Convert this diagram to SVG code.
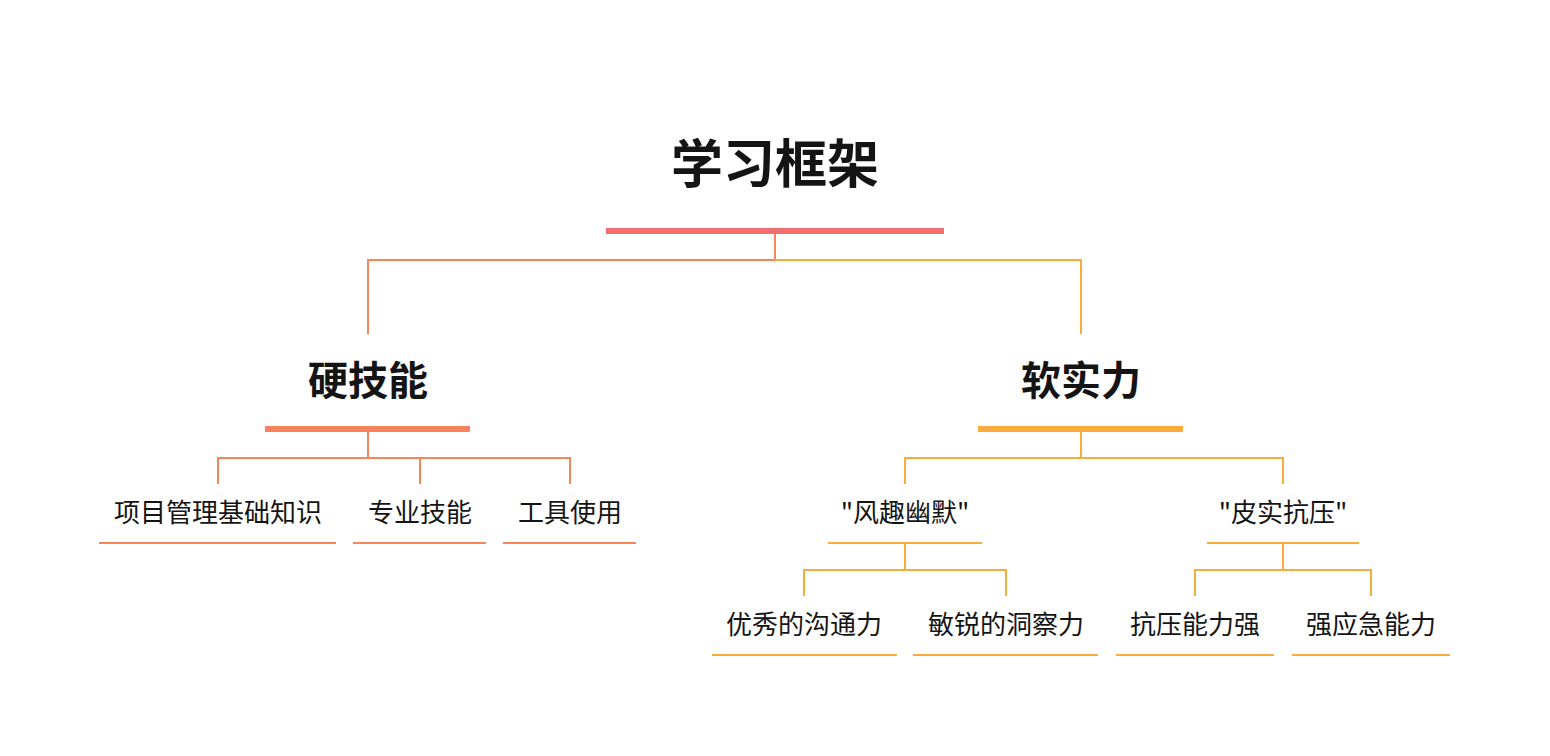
<svg xmlns="http://www.w3.org/2000/svg" width="1550" height="756" viewBox="0 0 1550 756">
<style>
text{font-family:"Noto Sans CJK SC","Noto Sans",sans-serif;fill:#141414;text-anchor:middle}
.t0{font-size:52px;font-weight:700}
.t1{font-size:40px;font-weight:700}
.t2{font-size:26px}
.c{fill:none;stroke-width:2}
.red{stroke:#F7845B}
.org{stroke:#FBAB3C}
</style>
<rect width="1550" height="756" fill="#fff"/>
<g id="connectors">
<path class="c red" d="M775 234V260M368 334V260H775"/>
<path class="c org" d="M775 260H1081V334"/>
<path class="c red" d="M368 432V458M218 484V458H570V484M420 458V484"/>
<path class="c org" d="M1081 432V458M905 484V458H1283V484"/>
<path class="c org" d="M905 543V570M804 596V570H1006V596"/>
<path class="c org" d="M1283 543V570M1195 596V570H1371V596"/>
</g>
<g id="root"><text class="t0" x="775" y="183">学习框架</text><rect x="606" y="228" width="338" height="6" fill="#F06E70"/></g>
<g id="hard"><text class="t1" x="368" y="395">硬技能</text><rect x="265" y="426" width="205" height="6" fill="#F7845B"/></g>
<g id="soft"><text class="t1" x="1081" y="395">软实力</text><rect x="978" y="426" width="205" height="6" fill="#FBAB3C"/></g>
<g id="h1"><text class="t2" x="218" y="522">项目管理基础知识</text><line x1="99" y1="543" x2="336" y2="543" class="c red"/></g>
<g id="h2"><text class="t2" x="420" y="522">专业技能</text><line x1="353" y1="543" x2="486" y2="543" class="c red"/></g>
<g id="h3"><text class="t2" x="570" y="522">工具使用</text><line x1="503" y1="543" x2="636" y2="543" class="c red"/></g>
<g id="s1"><text class="t2" x="905" y="522">"风趣幽默"</text><line x1="828" y1="543" x2="982" y2="543" class="c org"/></g>
<g id="s2"><text class="t2" x="1283" y="522">"皮实抗压"</text><line x1="1207" y1="543" x2="1359" y2="543" class="c org"/></g>
<g id="l1"><text class="t2" x="804" y="634">优秀的沟通力</text><line x1="712" y1="655" x2="897" y2="655" class="c org"/></g>
<g id="l2"><text class="t2" x="1006" y="634">敏锐的洞察力</text><line x1="913" y1="655" x2="1098" y2="655" class="c org"/></g>
<g id="l3"><text class="t2" x="1195" y="634">抗压能力强</text><line x1="1116" y1="655" x2="1274" y2="655" class="c org"/></g>
<g id="l4"><text class="t2" x="1371" y="634">强应急能力</text><line x1="1292" y1="655" x2="1450" y2="655" class="c org"/></g>
</svg>
